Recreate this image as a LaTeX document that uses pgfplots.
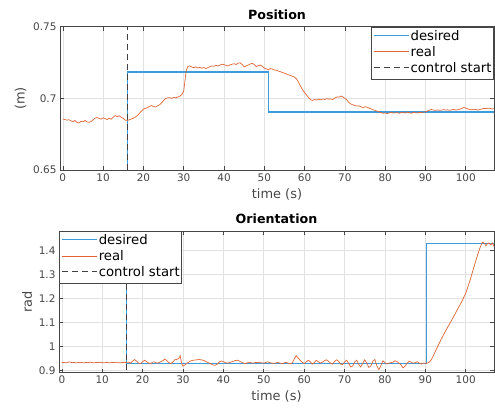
\documentclass[border=0pt]{standalone}
\usepackage{pgfplots}
\pgfplotsset{compat=1.18}
\usepackage{fontspec}
\setmainfont{DejaVu Sans}
\definecolor{mblue}{RGB}{60,155,218}
\definecolor{morange}{RGB}{225,100,50}
\definecolor{axc}{RGB}{70,70,70}
\definecolor{gridc}{RGB}{226,226,226}
\definecolor{ctrl}{RGB}{64,64,64}

\newcommand{\legline}[1]{\raisebox{0.32em}{\tikz\draw[#1] (0bp,0bp) -- (35bp,0bp);}}
\newcommand{\legbox}{%
  \fontsize{13.3}{16}\selectfont
  \begin{tabular}{@{}l@{\hspace{1bp}}l@{}}
  \legline{mblue, line width=1.4pt} & desired\\
  \legline{morange, line width=0.7pt} & real\\
  \legline{ctrl, line width=0.9pt, dash pattern=on 6bp off 4bp} & control start
  \end{tabular}}

\pgfplotstableread{
x y
0 0.6856
0.5 0.6852
1 0.6848
1.5 0.6851
2 0.6843
2.5 0.6838
3 0.6845
3.5 0.6832
4 0.6828
4.5 0.6840
5 0.6836
5.5 0.6846
6 0.6835
6.5 0.6833
7 0.6838
7.5 0.6850
8 0.6862
8.5 0.6866
9 0.6860
9.5 0.6855
10 0.6864
10.5 0.6858
11 0.6852
11.5 0.6862
12 0.6855
12.5 0.6868
13 0.6880
13.5 0.6872
14 0.6878
14.5 0.6868
15 0.6860
15.5 0.6848
16 0.6846
16.5 0.6850
17 0.6856
17.5 0.6862
18 0.6870
18.5 0.6880
19 0.6895
19.5 0.6910
20 0.6925
20.5 0.6930
21 0.6935
21.5 0.6944
22 0.6950
22.5 0.6942
23 0.6940
23.5 0.6948
24 0.6955
24.5 0.6968
25 0.6985
25.5 0.6998
26 0.7003
26.5 0.7005
27 0.7000
27.5 0.7006
28 0.7004
28.5 0.7008
29 0.7015
29.5 0.7025
30 0.7050
30.3 0.7120
30.6 0.7190
31 0.7222
31.5 0.7226
32 0.7218
32.5 0.7214
33 0.7220
33.5 0.7212
34 0.7216
34.5 0.7210
35 0.7215
35.5 0.7208
36 0.7214
36.5 0.7222
37 0.7226
37.5 0.7224
38 0.7230
38.5 0.7226
39 0.7232
39.5 0.7238
40 0.7235
40.5 0.7230
41 0.7226
41.5 0.7234
42 0.7238
42.5 0.7242
43 0.7236
43.5 0.7246
44 0.7248
44.5 0.7236
45 0.7220
45.5 0.7226
46 0.7232
46.5 0.7240
47 0.7244
47.5 0.7236
48 0.7222
48.5 0.7228
49 0.7232
49.5 0.7224
50 0.7210
50.5 0.7206
51 0.7200
51.5 0.7208
52 0.7204
52.5 0.7198
53 0.7196
53.5 0.7190
54 0.7186
54.5 0.7180
55 0.7176
55.5 0.7170
56 0.7164
56.5 0.7160
57 0.7154
57.5 0.7148
58 0.7135
58.5 0.7112
59 0.7085
59.5 0.7060
60 0.7040
60.5 0.7022
61 0.7005
61.5 0.6990
62 0.6985
62.5 0.6992
63 0.6988
63.5 0.6994
64 0.6990
64.5 0.6996
65 0.6992
65.5 0.6998
66 0.6994
66.5 0.6996
67 0.6992
67.5 0.7002
68 0.7010
68.5 0.7008
69 0.7016
69.5 0.7010
70 0.7000
70.5 0.6988
71 0.6970
71.5 0.6960
72 0.6955
72.5 0.6950
73 0.6946
73.5 0.6948
74 0.6940
74.5 0.6935
75 0.6942
75.5 0.6938
76 0.6932
76.5 0.6926
77 0.6920
77.5 0.6916
78 0.6910
78.5 0.6906
79 0.6900
79.5 0.6896
80 0.6898
80.5 0.6894
81 0.6898
81.5 0.6902
82 0.6898
83 0.6900
83.5 0.6896
84 0.6902
85 0.6898
85.5 0.6904
86 0.6900
86.5 0.6896
87 0.6902
88 0.6898
88.5 0.6902
89 0.6900
89.5 0.6904
90 0.6906
90.5 0.6912
91 0.6918
91.5 0.6922
92 0.6918
92.5 0.6916
93 0.6920
93.5 0.6916
94 0.6918
94.5 0.6922
95 0.6918
95.5 0.6920
96 0.6916
96.5 0.6920
97 0.6924
97.5 0.6918
98 0.6920
98.5 0.6924
99 0.6930
99.5 0.6936
100 0.6932
100.5 0.6926
101 0.6922
101.5 0.6920
102 0.6924
102.5 0.6922
103 0.6918
103.5 0.6922
104 0.6926
104.5 0.6930
105 0.6928
105.5 0.6932
106 0.6930
106.5 0.6926
107 0.6928
}\posreal

\pgfplotstableread{
x y
0 0.932
0.5 0.933
1 0.931
1.5 0.934
2 0.935
2.5 0.932
3 0.933
3.5 0.931
4 0.932
4.5 0.934
5 0.932
5.5 0.931
6 0.933
6.5 0.932
7 0.934
7.5 0.932
8 0.931
8.5 0.933
9 0.932
9.5 0.934
10 0.932
10.5 0.931
11 0.933
11.5 0.932
12 0.931
12.5 0.933
13 0.932
13.5 0.934
14 0.932
14.5 0.931
15 0.933
15.5 0.932
16 0.933
16.5 0.934
17 0.930
17.5 0.938
18 0.945
18.5 0.938
19 0.930
19.5 0.928
20 0.936
20.5 0.942
21 0.936
21.5 0.930
22 0.928
22.5 0.934
23 0.935
23.5 0.930
24 0.932
24.5 0.936
25 0.940
25.5 0.947
26 0.940
26.5 0.932
27 0.928
27.5 0.935
28 0.944
28.5 0.946
29 0.950
29.3 0.961
29.6 0.935
29.9 0.918
30.3 0.920
30.8 0.928
31.5 0.935
32 0.940
32.5 0.942
33 0.943
33.5 0.944
34 0.945
34.5 0.944
35 0.942
35.5 0.938
36 0.934
36.5 0.930
37 0.926
37.5 0.922
38 0.921
38.5 0.926
39 0.935
39.5 0.939
40 0.936
40.5 0.932
41 0.930
41.5 0.932
42 0.935
42.5 0.938
43 0.941
43.5 0.942
44 0.938
44.5 0.934
45 0.930
45.5 0.928
46 0.932
46.5 0.934
47 0.931
47.5 0.930
48 0.933
48.5 0.932
49 0.934
49.5 0.931
50 0.930
50.5 0.933
51 0.935
51.5 0.932
52 0.930
52.5 0.929
53 0.931
53.5 0.933
54 0.930
54.5 0.928
55 0.931
55.5 0.933
56 0.930
56.5 0.928
57 0.930
57.5 0.945
58 0.961
58.5 0.952
59 0.942
59.5 0.934
60 0.928
60.5 0.935
61 0.942
61.5 0.936
62 0.926
62.5 0.932
63 0.942
63.5 0.936
64 0.930
64.5 0.934
65 0.940
65.5 0.944
66 0.938
66.5 0.930
67 0.926
67.5 0.936
68 0.944
68.5 0.938
69 0.926
69.5 0.924
70 0.935
70.5 0.942
71 0.930
71.5 0.914
72 0.918
72.5 0.935
73 0.942
73.5 0.925
74 0.914
74.5 0.930
75 0.944
75.5 0.930
76 0.912
76.5 0.918
77 0.938
77.5 0.945
78 0.918
78.5 0.903
79 0.920
79.5 0.940
80 0.932
80.5 0.926
81 0.930
81.5 0.932
82 0.934
82.5 0.940
83 0.936
83.5 0.930
84 0.922
84.5 0.910
85 0.918
85.5 0.930
86 0.938
86.5 0.934
87 0.930
87.5 0.932
88 0.936
88.5 0.930
89 0.926
89.5 0.930
90 0.929
90.5 0.930
91 0.934
91.5 0.945
92 0.962
92.5 0.980
93 0.998
93.5 1.015
94 1.032
94.5 1.048
95 1.064
96 1.094
97 1.124
98 1.156
99 1.186
100 1.222
101 1.272
102 1.330
103 1.385
103.5 1.410
104 1.432
104.3 1.436
104.7 1.428
105 1.420
105.4 1.430
105.8 1.432
106.2 1.424
106.6 1.432
107 1.418
}\oriReal

\begin{document}
\begin{tikzpicture}
\pgfplotsset{
  every axis/.append style={
    scale only axis,
    xmin=-0.7, xmax=107,
    xtick={0,10,...,100},
    grid=major,
    major grid style={gridc, line width=0.6pt},
    axis line style={axc, line width=0.8pt},
    tick style={axc, line width=0.6pt},
    major tick length=4bp,
    tick align=inside,
    ticklabel style={font=\fontsize{10.5}{12}\selectfont, text=axc},
    /pgf/number format/assume math mode=true,
    /pgf/number format/fixed,
    /pgf/number format/precision=2,
    xlabel={time (s)},
    label style={font=\fontsize{13}{15}\selectfont, text=axc},
    title style={font=\fontsize{12.7}{15}\selectfont\bfseries, text=black, yshift=-2bp},
  },
}
\begin{axis}[
  at={(60bp,244bp)}, anchor=south west,
  width=434bp, height=143.3bp,
  ymin=0.65, ymax=0.75,
  ytick={0.65,0.7,0.75},
  ylabel={(m)},
  title={Position},
]
\addplot[color=mblue, line width=1.4pt] coordinates {(16,0.5) (16,0.7185) (51,0.7185) (51,0.6905) (107,0.6905)};
\addplot[color=morange, line width=0.7pt] table {\posreal};
\addplot[color=ctrl, line width=0.9pt, dash pattern=on 6bp off 4bp] coordinates {(16,0.65) (16,0.75)};
\node[draw=axc, line width=0.8pt, fill=white, text=black, inner sep=2bp, anchor=north east] at (rel axis cs:1,1) {\legbox};
\end{axis}

\begin{axis}[
  at={(59bp,41.3bp)}, anchor=south west,
  width=435bp, height=141.7bp,
  ymin=0.89, ymax=1.482,
  ytick={0.9,1,1.1,1.2,1.3,1.4},
  ylabel={rad},
  title={Orientation},
]
\addplot[color=mblue, line width=1pt] coordinates {(16,2) (16,0.929) (90.3,0.929) (90.3,1.428) (107,1.428)};
\addplot[color=morange, line width=0.7pt] table {\oriReal};
\addplot[color=ctrl, line width=0.9pt, dash pattern=on 6bp off 4bp] coordinates {(16,0.9) (16,1.5)};
\node[draw=axc, line width=0.8pt, fill=white, text=black, inner sep=2bp, anchor=north west] at (rel axis cs:0,1) {\legbox};
\end{axis}
\pgfresetboundingbox
\path (0bp,0bp) rectangle (495bp,414bp);
\end{tikzpicture}
\end{document}
